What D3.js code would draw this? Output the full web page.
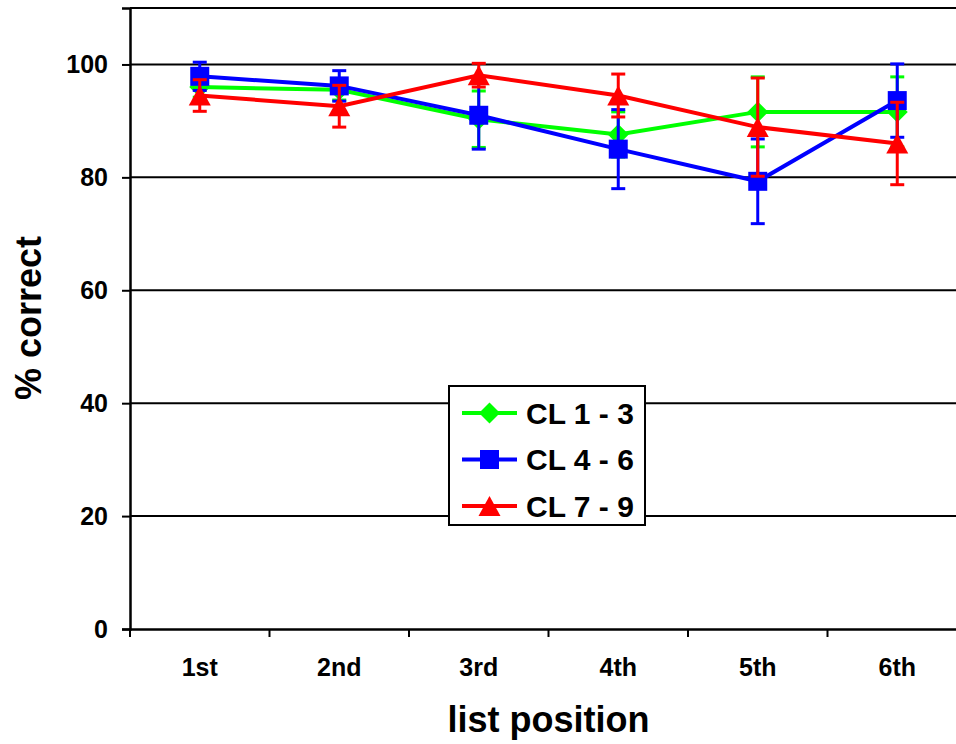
<!DOCTYPE html>
<html>
<head>
<meta charset="utf-8">
<script src="https://cdn.jsdelivr.net/npm/d3@7"></script>
<style>
  body { margin: 0; background: #fff; }
  svg { display: block; font-family: Arial, "Liberation Sans", sans-serif; font-weight: bold; }
</style>
</head>
<body>
<div id="container"></div>
<script>
var categories = ["1st", "2nd", "3rd", "4th", "5th", "6th"];
var yTicks = [0, 20, 40, 60, 80, 100];
var seriesNames = ["CL 1 - 3", "CL 4 - 6", "CL 7 - 9"];

var cl13 = [96.0, 95.5, 90.3, 87.6, 91.6, 91.6];
var cl13Err = [1.8, 1.8, 5.0, 4.0, 6.2, 6.2];
var cl46 = [97.9, 96.2, 91.0, 85.0, 79.3, 93.6];
var cl46Err = [2.5, 2.7, 6.0, 7.0, 7.5, 6.5];
var cl79 = [94.5, 92.6, 98.1, 94.5, 88.9, 86.0];
var cl79Err = [2.8, 3.7, 2.1, 3.8, 8.7, 7.3];

var width = 956, height = 744;
var plotLeft = 130, plotRight = 967, plotTop = 8, plotBottom = 629;

var series = [
  { name: seriesNames[0], values: cl13, err: cl13Err, color: "#00ff00", marker: "diamond" },
  { name: seriesNames[1], values: cl46, err: cl46Err, color: "#0000ff", marker: "square" },
  { name: seriesNames[2], values: cl79, err: cl79Err, color: "#ff0000", marker: "triangle" }
];

var x = d3.scaleBand().domain(categories).range([plotLeft, plotRight]);
var y = d3.scaleLinear().domain([0, 110]).range([plotBottom, plotTop]);

var svg = d3.select("#container")
  .append("svg")
  .attr("width", width)
  .attr("height", height);

// gridlines + top border of the plot area
svg.append("g")
  .selectAll("line")
  .data(yTicks.filter(function (d) { return d > 0; }).concat([110]))
  .join("line")
  .attr("x1", plotLeft)
  .attr("x2", plotRight)
  .attr("y1", function (d) { return y(d); })
  .attr("y2", function (d) { return y(d); })
  .attr("stroke", "#000")
  .attr("stroke-width", 2);

// y axis
var yAxis = svg.append("g")
  .attr("transform", "translate(" + plotLeft + ",0)")
  .call(d3.axisLeft(y).tickValues(yTicks).tickSize(8).tickPadding(14));
yAxis.select(".domain").attr("stroke-width", 2.5);
yAxis.selectAll(".tick line").attr("stroke-width", 2);
yAxis.selectAll("text")
  .attr("font-size", 25)
  .attr("font-family", "Arial, 'Liberation Sans', sans-serif")
  .attr("font-weight", "bold")
  .attr("fill", "#000");

// x axis: labels in band centres, ticks on band edges
var xAxis = svg.append("g")
  .attr("transform", "translate(0," + plotBottom + ")")
  .call(d3.axisBottom(x).tickSize(0).tickPadding(29));
xAxis.select(".domain").attr("stroke-width", 2.5);
xAxis.selectAll("text")
  .attr("font-size", 25)
  .attr("font-family", "Arial, 'Liberation Sans', sans-serif")
  .attr("font-weight", "bold")
  .attr("fill", "#000");
xAxis.selectAll("line.edge")
  .data(categories)
  .join("line")
  .classed("edge", true)
  .attr("x1", function (d) { return x(d); })
  .attr("x2", function (d) { return x(d); })
  .attr("y1", 0)
  .attr("y2", 8)
  .attr("stroke", "#000")
  .attr("stroke-width", 2);

// axis titles
svg.append("text")
  .attr("x", (plotLeft + plotRight) / 2)
  .attr("y", 732)
  .attr("text-anchor", "middle")
  .attr("font-size", 36)
  .text("list position");

svg.append("text")
  .attr("transform", "translate(41,318) rotate(-90)")
  .attr("text-anchor", "middle")
  .attr("font-size", 36)
  .text("% correct");

function markerPath(type) {
  if (type === "square") return d3.symbol().type(d3.symbolSquare).size(361)();
  // excel style markers, centred on their bounding box
  if (type === "triangle") return "M0,-10L11,10L-11,10Z";
  return "M0,-10.5L10.5,0L0,10.5L-10.5,0Z";
}

var cx = function (d, i) { return x(categories[i]) + x.bandwidth() / 2; };

var line = d3.line()
  .x(function (d, i) { return cx(d, i); })
  .y(function (d) { return y(d); });

series.forEach(function (s) {
  var g = svg.append("g");

  // error bars
  var eb = g.append("g")
    .selectAll("g")
    .data(s.values)
    .join("g");
  eb.append("line")
    .attr("x1", cx).attr("x2", cx)
    .attr("y1", function (d, i) { return y(d + s.err[i]); })
    .attr("y2", function (d, i) { return y(d - s.err[i]); })
    .attr("stroke", s.color)
    .attr("stroke-width", 3);
  [1, -1].forEach(function (sign) {
    eb.append("line")
      .attr("x1", function (d, i) { return cx(d, i) - 7; })
      .attr("x2", function (d, i) { return cx(d, i) + 7; })
      .attr("y1", function (d, i) { return y(d + sign * s.err[i]); })
      .attr("y2", function (d, i) { return y(d + sign * s.err[i]); })
      .attr("stroke", s.color)
      .attr("stroke-width", 3);
  });

  g.append("path")
    .datum(s.values)
    .attr("d", line)
    .attr("fill", "none")
    .attr("stroke", s.color)
    .attr("stroke-width", 4);

  g.append("g")
    .selectAll("path")
    .data(s.values)
    .join("path")
    .attr("transform", function (d, i) { return "translate(" + cx(d, i) + "," + y(d) + ")"; })
    .attr("d", markerPath(s.marker))
    .attr("fill", s.color);
});

// legend
var legend = svg.append("g");
legend.append("rect")
  .attr("x", 449)
  .attr("y", 386)
  .attr("width", 196)
  .attr("height", 139)
  .attr("fill", "#fff")
  .attr("stroke", "#000")
  .attr("stroke-width", 2);

var rows = legend.selectAll("g.row")
  .data(series)
  .join("g")
  .classed("row", true)
  .attr("transform", function (d, i) { return "translate(0," + (413 + i * 46.5) + ")"; });
rows.append("line")
  .attr("x1", 462).attr("x2", 517)
  .attr("y1", 0).attr("y2", 0)
  .attr("stroke", function (d) { return d.color; })
  .attr("stroke-width", 4);
rows.append("path")
  .attr("transform", "translate(489.5,0)")
  .attr("d", function (d) { return markerPath(d.marker); })
  .attr("fill", function (d) { return d.color; });
rows.append("text")
  .attr("x", 526)
  .attr("dy", "0.36em")
  .attr("font-size", 30)
  .text(function (d) { return d.name; });
</script>
</body>
</html>
